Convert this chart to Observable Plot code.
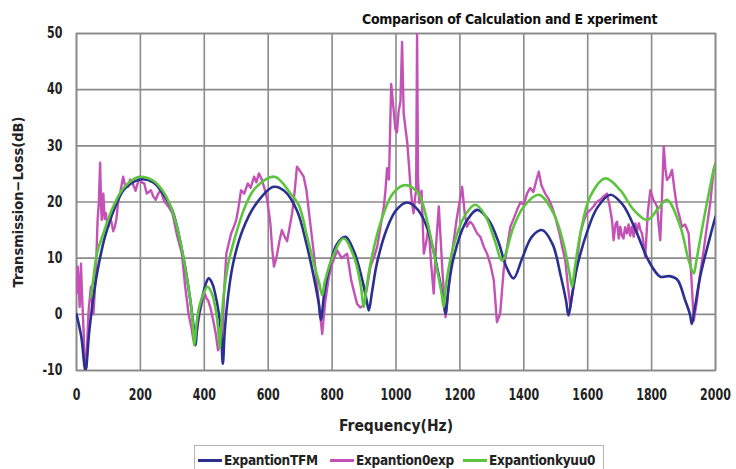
<!DOCTYPE html>
<html>
<head>
<meta charset="utf-8">
<script src="https://cdn.jsdelivr.net/npm/d3@7"></script>
<script src="https://cdn.jsdelivr.net/npm/@observablehq/plot@0.6"></script>
<style>
  html, body { margin: 0; padding: 0; background: #fff; }
  #wrap { position: relative; width: 736px; height: 469px; overflow: hidden;
          font-family: "DejaVu Sans Condensed", "DejaVu Sans", sans-serif; font-stretch: condensed; }
  #title { position: absolute; top: 10px; left: 362px; font-size: 14px; line-height: 18px; font-weight: bold; color: #111; white-space: nowrap; letter-spacing: -0.3px; }
  #legend { position: absolute; top: 445px; left: 194px; width: 410px; height: 30px; border: 1.5px solid #b5b5b5; box-sizing: border-box;
            font-size: 13.5px; font-weight: bold; color: #222; letter-spacing: -0.3px; }
  .item { position: absolute; top: 6px; display: flex; align-items: center; white-space: nowrap; }
  .sw { display: inline-block; width: 24px; height: 3px; margin-right: 2px; }
  svg text { font-family: "DejaVu Sans Condensed", "DejaVu Sans", sans-serif; font-stretch: condensed; }
</style>
</head>
<body>
<div id="wrap">
  <div id="title"></div>
  <div id="chart"></div>
  <div id="legend"></div>
</div>
<script>
const titleText = "Comparison of Calculation and E xperiment";
const xLabel = "Frequency(Hz)";
const yLabel = "Transmission\u2212Loss(dB)";
const xTicks = [0, 200, 400, 600, 800, 1000, 1200, 1400, 1600, 1800, 2000];
const yTicks = [-10, 0, 10, 20, 30, 40, 50];
const seriesNames = ["ExpantionTFM", "Expantion0exp", "Expantionkyuu0"];
const seriesColors = ["#2b3090", "#c452b6", "#5cc53e"];

// ExpantionTFM (calculation, blue)
const tfmFreq = [0, 15, 28, 40, 55, 70, 90, 120, 150, 200, 240, 270, 300, 335, 355, 366, 372, 380, 390, 405, 414, 425, 440, 452, 458, 464, 475, 490, 520, 560, 617, 650, 690, 720, 745, 758, 765, 775, 790, 815, 842, 870, 895, 908, 915, 925, 940, 970, 1000, 1035, 1070, 1100, 1130, 1148, 1155, 1165, 1180, 1215, 1254, 1290, 1320, 1345, 1368, 1395, 1425, 1457, 1490, 1515, 1532, 1540, 1550, 1565, 1600, 1630, 1671, 1710, 1750, 1790, 1827, 1855, 1880, 1905, 1920, 1926, 1935, 1952, 1983, 2000];
const tfmDb   = [0, -4, -10, -3, 4, 9, 14, 19, 22.3, 24, 23.5, 21.5, 18.5, 10, 3, -2, -5.5, -1, 2, 5.5, 6.4, 5.5, 2, -3, -8.8, -3, 3.5, 9, 15, 19.5, 22.7, 22, 18.5, 12.5, 6, 2, -1, 3.5, 8, 12.5, 13.8, 11, 6, 2.5, 0.7, 4, 9, 15, 18.5, 19.9, 18.5, 15, 8, 2.5, 0.1, 5, 10, 16, 18.6, 16.8, 13, 8.5, 6.4, 10, 13.8, 15, 12.5, 7, 2.5, -0.2, 3, 8, 15, 19, 21.3, 19.5, 15, 9.6, 6.7, 6.8, 6.2, 2.5, 0, -1.7, 1, 6.7, 13.8, 17.4];

// Expantion0exp (experiment, magenta)
const expFreq = [0, 4, 7, 10, 14, 17, 20, 25, 31, 35, 38, 45, 49, 53, 58, 62, 66, 70, 74, 77, 79, 84, 88, 92, 96, 100, 105, 110, 115, 120, 125, 130, 138, 146, 152, 161, 168, 176, 185, 197, 204, 212, 220, 233, 240, 248, 256, 264, 272, 279, 290, 300, 315, 330, 340, 351, 360, 366, 372, 377, 385, 392, 402, 407, 412, 420, 428, 436, 443, 450, 456, 462, 469, 476, 484, 492, 500, 507, 515, 525, 536, 545, 556, 563, 571, 580, 587, 597, 607, 612, 618, 623, 628, 635, 643, 650, 659, 667, 675, 683, 690, 700, 711, 720, 730, 743, 755, 769, 778, 790, 800, 816, 830, 847, 860, 878, 888, 899, 910, 920, 930, 941, 950, 962, 967, 972, 978, 985, 990, 998, 1003, 1008, 1014, 1019, 1024, 1030, 1035, 1040, 1045, 1050, 1055, 1060, 1063, 1066, 1069, 1073, 1080, 1087, 1095, 1102, 1110, 1118, 1125, 1134, 1145, 1155, 1165, 1175, 1190, 1207, 1215, 1222, 1232, 1240, 1254, 1264, 1275, 1285, 1295, 1306, 1316, 1326, 1337, 1348, 1358, 1368, 1379, 1390, 1400, 1410, 1420, 1430, 1440, 1447, 1455, 1467, 1478, 1488, 1500, 1514, 1522, 1530, 1538, 1546, 1553, 1561, 1570, 1577, 1587, 1597, 1607, 1618, 1628, 1639, 1650, 1660, 1668, 1676, 1681, 1687, 1692, 1697, 1702, 1707, 1712, 1717, 1723, 1728, 1733, 1738, 1744, 1749, 1754, 1760, 1765, 1770, 1775, 1780, 1788, 1796, 1805, 1817, 1822, 1827, 1832, 1838, 1843, 1848, 1856, 1864, 1872, 1879, 1887, 1895, 1905, 1916, 1924, 1932, 1942, 1952, 1962, 1973, 1984, 1994, 2000];
const expDb   = [3.7, 8.5, 5, 1.3, 9, 4, 0, -7, -9.4, -3, 0.7, 4.9, 2, 0, 5, 9.6, 16.8, 20, 27, 19, 16.8, 21.5, 17, 18, 16, 15.6, 17.5, 16.2, 14.8, 15.6, 17, 19.8, 22, 24.5, 23, 22.7, 24, 23.3, 22, 24.5, 23.5, 23.3, 21.5, 22.1, 21, 20.4, 21.5, 22.1, 20.5, 19.8, 19, 18, 14, 10.8, 5, 0, -2.5, -4.6, -3.5, -2.9, 0, 1.9, 3.7, 2.8, 2.5, 1, -1.1, -3.5, -6.4, -5.5, -4.6, 4, 10.8, 12.5, 14.4, 15.5, 16.8, 19, 22.1, 21.5, 23.3, 22.5, 24.5, 23.5, 25.1, 24, 22.7, 20.4, 16, 12, 8.5, 9.5, 10.8, 13, 15, 14, 13, 15.5, 18, 22, 26.3, 25.5, 24.5, 22, 17, 10.8, 4, -3.5, 2, 6.7, 9, 11.4, 10, 10.8, 6, 1.9, 1.2, 1.6, 5, 8.5, 10, 12, 15, 19.2, 22, 26, 24, 41, 38, 33, 32.4, 36, 38, 48.5, 35.8, 33, 30.7, 27, 23, 20, 18, 21, 22, 50, 24, 19.8, 22, 10.8, 13, 15.6, 9, 3.7, 12, 19.2, 8, -0.5, 5, 10.8, 17, 22.7, 18, 15.6, 16.5, 16, 14.4, 13.8, 12, 10.8, 9, 6.1, -1.4, 0.1, 7.9, 12, 15.6, 17, 18.6, 20, 19.5, 21.5, 22.5, 21.8, 24, 25.4, 23, 21.5, 20.5, 19.2, 17, 13.8, 11.5, 9.6, 5, 1.3, 4, 6.7, 11, 14.4, 16.5, 18, 18.5, 19.2, 20, 20.4, 21, 21.5, 19.5, 16.8, 13.2, 16, 16.5, 13.5, 15.6, 14, 13.5, 15.5, 14.4, 16, 14, 15.6, 13.8, 16.2, 14.8, 16.2, 15, 14.4, 12.5, 10.2, 18, 22.1, 20.5, 19.2, 16, 13.2, 20, 29.9, 26, 23.9, 24.5, 25.7, 22, 19.2, 17.5, 15.6, 16, 14.4, 7, -1.1, 2.5, 7.3, 11, 15.6, 20, 25.7, 26.9];

// Expantionkyuu0 (calculation, green)
const kyuFreq = [45, 52, 64, 84, 115, 146, 176, 200, 240, 270, 289, 310, 335, 355, 363, 369, 376, 385, 400, 410, 425, 438, 444, 448, 453, 460, 475, 500, 530, 560, 620, 670, 696, 722, 743, 760, 769, 778, 800, 836, 870, 890, 899, 907, 920, 950, 990, 1029, 1070, 1100, 1125, 1142, 1149, 1156, 1175, 1210, 1248, 1280, 1310, 1332, 1368, 1400, 1447, 1493, 1525, 1544, 1551, 1558, 1577, 1608, 1655, 1702, 1744, 1786, 1820, 1848, 1890, 1916, 1932, 1940, 1963, 1994, 2000];
const kyuDb   = [3, 6, 10.8, 14.4, 19.2, 22.4, 24, 24.5, 23.8, 22, 20, 16.5, 10, 3, -1, -5.5, -1.5, 1.5, 4, 4.9, 3.5, 0, -3, -6, -2, 3, 9, 14.5, 19.5, 22.5, 24.5, 21.5, 19.4, 13.8, 9, 5.5, 3.4, 6, 10, 13.5, 10, 5, 1.3, 4.5, 9, 16, 21.5, 23, 21.5, 16, 9, 4, 1.3, 5, 11, 17, 19.5, 17.5, 13, 9.6, 15.6, 19.2, 21.3, 18, 12.4, 7, 4.9, 7.5, 14.4, 21, 24.2, 22.1, 18.6, 16.8, 18.8, 20.4, 15.6, 9.6, 7.3, 9.5, 16.8, 25.7, 26.9];

document.getElementById("title").textContent = titleText;

const toRows = (fs, ds, name) => fs.map((f, i) => ({f, db: ds[i], name}));
const tfm = toRows(tfmFreq, tfmDb, seriesNames[0]);
const exp = toRows(expFreq, expDb, seriesNames[1]);
const kyu = toRows(kyuFreq, kyuDb, seriesNames[2]);

const plot = Plot.plot({
  width: 736,
  height: 440,
  marginTop: 33,
  marginLeft: 76,
  marginRight: 21,
  marginBottom: 70,
  style: {background: "transparent", fontSize: "15px", fontWeight: "bold", color: "#222"},
  x: {domain: [0, 2000], ticks: xTicks, tickSize: 0, tickPadding: 19, tickFormat: d => String(d), label: null},
  y: {domain: [-10, 50], ticks: yTicks, tickSize: 0, tickPadding: 14, tickFormat: d => String(d), label: null},
  marks: [
    Plot.ruleX(xTicks, {stroke: "#8a8a8a", strokeWidth: 1.6}),
    Plot.ruleY(yTicks, {stroke: "#8a8a8a", strokeWidth: 1.6}),
    Plot.frame({stroke: "#8a8a8a", strokeWidth: 1.6}),
    Plot.line(exp, {x: "f", y: "db", stroke: seriesColors[1], strokeWidth: 2.4, clip: true, strokeLinejoin: "round"}),
    Plot.line(tfm, {x: "f", y: "db", stroke: seriesColors[0], strokeWidth: 2.6, curve: "catmull-rom", clip: true}),
    Plot.line(kyu, {x: "f", y: "db", stroke: seriesColors[2], strokeWidth: 2.6, curve: "catmull-rom", clip: true}),
    Plot.text([xLabel], {frameAnchor: "bottom", dy: 60, fontSize: 15.5, fontWeight: "bold", fill: "#222"}),
    Plot.text([yLabel], {frameAnchor: "left", textAnchor: "middle", lineAnchor: "middle", dx: -58, rotate: -90, fontSize: 14.5, fontWeight: "bold", fill: "#222"})
  ]
});
document.getElementById("chart").appendChild(plot);

// condense the tick labels horizontally (the original uses a narrow typeface)
plot.querySelectorAll('g[aria-label="x-axis tick label"] text, g[aria-label="y-axis tick label"] text').forEach(t => {
  const tr = t.getAttribute("transform") || "";
  const x = t.getAttribute("x");
  let extra = "";
  if (x !== null && !isNaN(+x)) { extra = ` translate(${+x},0)`; t.removeAttribute("x"); }
  t.setAttribute("transform", `${tr}${extra} scale(0.82,1)`);
});

const legend = document.getElementById("legend");
const legendLeft = [3, 135, 268];
seriesNames.forEach((n, i) => {
  const item = document.createElement("div");
  item.className = "item";
  item.style.left = legendLeft[i] + "px";
  const sw = document.createElement("span");
  sw.className = "sw";
  sw.style.background = seriesColors[i];
  item.appendChild(sw);
  item.appendChild(document.createTextNode(n));
  legend.appendChild(item);
});
</script>
</body>
</html>
